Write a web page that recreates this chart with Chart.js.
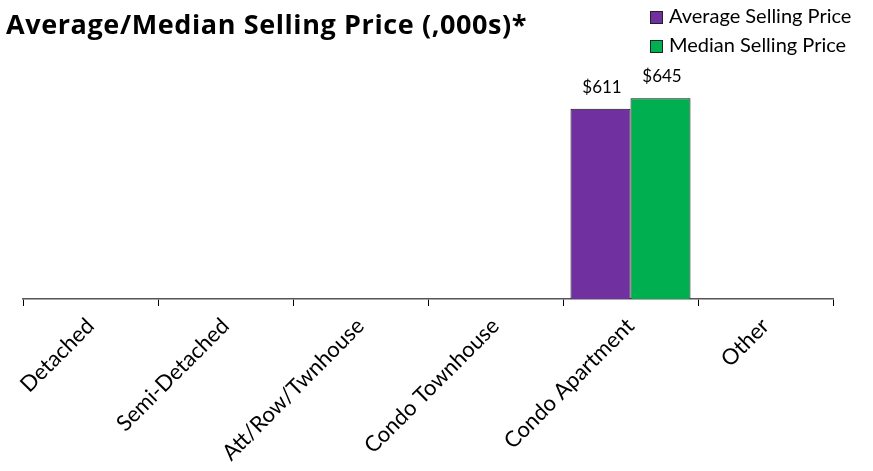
<!DOCTYPE html>
<html>
<head>
<meta charset="utf-8">
<script src="https://cdn.jsdelivr.net/npm/chart.js@4"></script>
<style>
  html, body { margin: 0; padding: 0; background: #fff; }
  #wrap { position: relative; width: 873px; height: 471px; }
  #title { position: absolute; left: 6px; top: 6px; font: bold 27px "Open Sans", Lato, sans-serif; color: #000; white-space: nowrap; letter-spacing: 0.6px; line-height: 36px; }
  .leg { position: absolute; left: 650px; font: 20px Lato, "Open Sans", sans-serif; color: #000; white-space: nowrap; line-height: 24px; }
  .leg span { display: inline-block; width: 11px; height: 11px; border: 1px solid #222; margin-right: 6px; vertical-align: -1px; }
</style>
</head>
<body>
<div id="wrap">
  <canvas id="c" width="873" height="471"></canvas>
  <div id="title">Average/Median Selling Price (,000s)*</div>
  <div class="leg" style="top:3px"><span style="background:#7030A0"></span>Average Selling Price</div>
  <div class="leg" style="top:32px"><span style="background:#00B050"></span>Median Selling Price</div>
</div>
<script>
const categories = ["Detached", "Semi-Detached", "Att/Row/Twnhouse", "Condo Townhouse", "Condo Apartment", "Other"];
const averagePrice = [0, 0, 0, 0, 611, 0];
const medianPrice = [0, 0, 0, 0, 645, 0];
const seriesNames = ["Average Selling Price", "Median Selling Price"];

const valueLabels = {
  id: 'valueLabels',
  afterDatasetsDraw(chart) {
    const ctx = chart.ctx;
    ctx.save();
    ctx.font = '17px Lato, "Open Sans", sans-serif';
    ctx.fillStyle = '#000';
    ctx.textAlign = 'center';
    ctx.textBaseline = 'alphabetic';
    chart.data.datasets.forEach((ds, i) => {
      const meta = chart.getDatasetMeta(i);
      meta.data.forEach((bar, j) => {
        const v = ds.data[j];
        if (v > 0) ctx.fillText('$' + v, bar.x + 1.5, bar.y - 16);
      });
    });
    ctx.restore();
  }
};

new Chart(document.getElementById('c'), {
  type: 'bar',
  data: {
    labels: categories,
    datasets: [
      { label: seriesNames[0], data: averagePrice, backgroundColor: '#7030A0', borderColor: '#111', borderWidth: 1 },
      { label: seriesNames[1], data: medianPrice, backgroundColor: '#00B050', borderColor: '#111', borderWidth: 1 }
    ]
  },
  options: {
    responsive: false,
    animation: false,
    layout: { padding: { top: 81, left: 23, right: 40, bottom: 0 } },
    datasets: { bar: { categoryPercentage: 0.889, barPercentage: 1.0 } },
    plugins: { legend: { display: false }, title: { display: false }, tooltip: { enabled: false } },
    scales: {
      x: {
        grid: { offset: true, drawOnChartArea: false, drawTicks: true, tickLength: 7, color: '#000', lineWidth: 1 },
        border: { display: true, color: '#555', width: 1.5 },
        ticks: { autoSkip: false, minRotation: 45, maxRotation: 45, color: '#000', font: { family: 'Lato, sans-serif', size: 22 }, padding: 7 },
        afterFit(scale) { scale.height = 172; }
      },
      y: { display: false, min: 0, max: 700 }
    }
  },
  plugins: [valueLabels]
});
</script>
</body>
</html>
